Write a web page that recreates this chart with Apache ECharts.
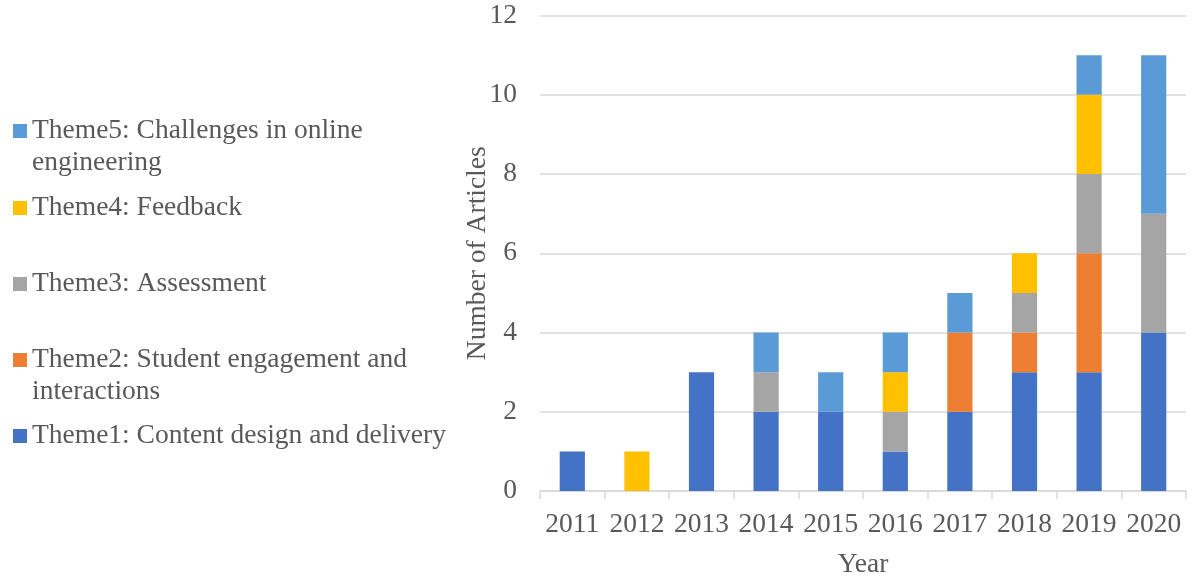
<!DOCTYPE html>
<html>
<head>
<meta charset="utf-8">
<script src="https://cdn.jsdelivr.net/npm/echarts@6/dist/echarts.min.js"></script>
<style>html,body{margin:0;padding:0;background:#fff}#c{width:1200px;height:577px}</style>
</head>
<body>
<div id="c"></div>
<script>
var years = ['2011','2012','2013','2014','2015','2016','2017','2018','2019','2020'];
var theme1 = [1, 0, 3, 2, 2, 1, 2, 3, 3, 4];
var theme2 = [0, 0, 0, 0, 0, 0, 2, 1, 3, 0];
var theme3 = [0, 0, 0, 1, 0, 1, 0, 1, 2, 3];
var theme4 = [0, 1, 0, 0, 0, 1, 0, 1, 2, 0];
var theme5 = [0, 0, 0, 1, 1, 1, 1, 0, 1, 4];
var names = [
  'Theme1: Content design and delivery',
  'Theme2: Student engagement and interactions',
  'Theme3: Assessment',
  'Theme4: Feedback',
  'Theme5: Challenges in online engineering'
];
var legendLines = {};
legendLines[names[4]] = ['Theme5: Challenges in online', 'engineering'];
legendLines[names[3]] = ['Theme4: Feedback'];
legendLines[names[2]] = ['Theme3: Assessment'];
legendLines[names[1]] = ['Theme2: Student engagement and', 'interactions'];
legendLines[names[0]] = ['Theme1: Content design and delivery'];
var colors = ['#4472C4', '#ED7D31', '#A5A5A5', '#FFC000', '#5B9BD5'];
var values = [theme1, theme2, theme3, theme4, theme5];

var FONT = '"Liberation Serif", "Times New Roman", serif';
var TXT = '#595959';
var FS = 27.5;
var LH = 32;

// legend icon centres (y) per item
var legendCenters = {};
legendCenters[names[4]] = 131;
legendCenters[names[3]] = 208;
legendCenters[names[2]] = 284;
legendCenters[names[1]] = 360;
legendCenters[names[0]] = 436;

var legends = [4, 3, 2, 1, 0].map(function (i) {
  var nm = names[i];
  var lines = legendLines[nm];
  var twoLine = lines.length > 1;
  return {
    data: [nm],
    orient: 'vertical',
    left: 13,
    top: legendCenters[nm] - (twoLine ? 48 : 16),
    padding: 0,
    icon: 'rect',
    itemWidth: 14,
    itemHeight: 14,
    // a blank leading line keeps the first text line level with the icon
    formatter: function (n) {
      var l = legendLines[n];
      return l.length > 1 ? ' \n' + l.join('\n') : l[0];
    },
    textStyle: { fontFamily: FONT, fontSize: FS, color: TXT, lineHeight: LH }
  };
});

var series = values.map(function (arr, i) {
  return {
    name: names[i],
    type: 'bar',
    stack: 'total',
    barWidth: '39%',
    itemStyle: { color: colors[i] },
    data: arr.map(function (v) { return v === 0 ? null : v; })
  };
});

var chart = echarts.init(document.getElementById('c'), null, { renderer: 'canvas' });
chart.setOption({
  animation: false,
  backgroundColor: '#ffffff',
  textStyle: { fontFamily: FONT },
  legend: legends,
  grid: { left: 540, right: 14, top: 15.5, bottom: 86, containLabel: false, outerBoundsMode: 'none' },
  xAxis: {
    type: 'category',
    data: years,
    name: 'Year',
    nameLocation: 'middle',
    nameGap: 60,
    nameMoveOverlap: false,
    nameTextStyle: { fontFamily: FONT, fontSize: FS, color: TXT },
    axisLine: { lineStyle: { color: '#D9D9D9', width: 1.5 } },
    axisTick: { show: true, alignWithLabel: false, length: 8, lineStyle: { color: '#D9D9D9', width: 1.5 } },
    axisLabel: { fontFamily: FONT, fontSize: FS, color: TXT, margin: 20, interval: 0 }
  },
  yAxis: {
    type: 'value',
    min: 0,
    max: 12,
    interval: 2,
    name: 'Number of Articles',
    nameLocation: 'middle',
    nameGap: 48,
    nameMoveOverlap: false,
    nameTextStyle: { fontFamily: FONT, fontSize: FS, color: TXT },
    axisLine: { show: false },
    axisTick: { show: false },
    axisLabel: { fontFamily: FONT, fontSize: FS, color: TXT, margin: 23 },
    splitLine: { lineStyle: { color: '#D9D9D9', width: 1.5 } }
  },
  series: series
});
</script>
</body>
</html>
